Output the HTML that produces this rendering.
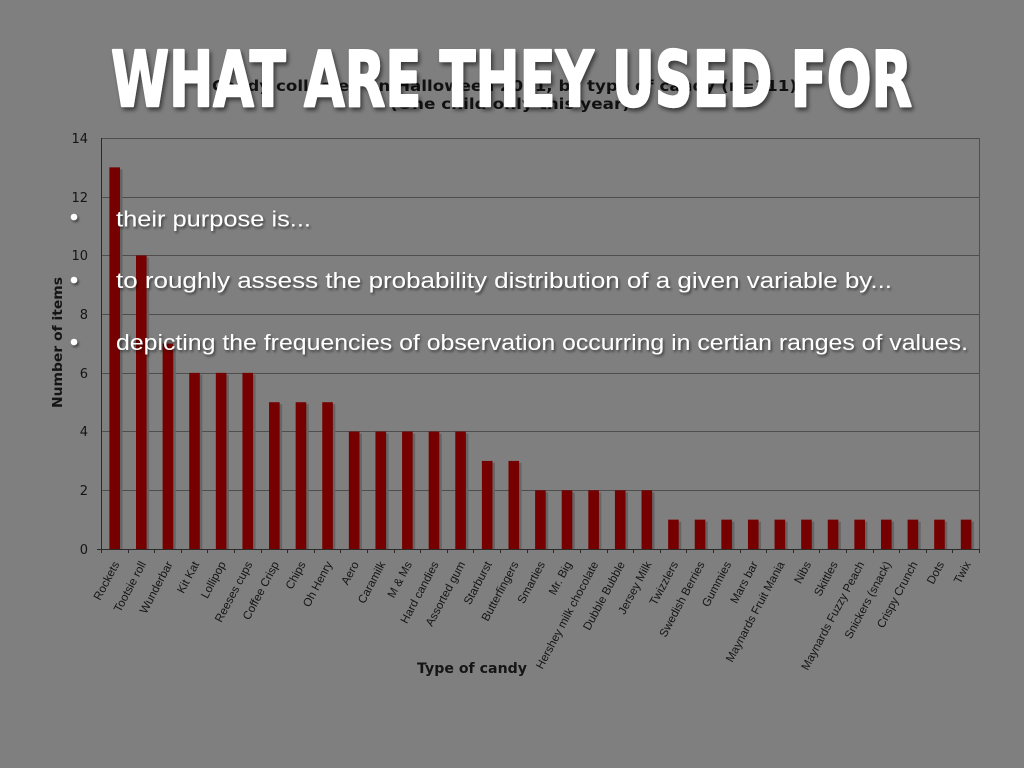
<!DOCTYPE html>
<html><head><meta charset="utf-8"><style>
html,body{margin:0;padding:0;background:#7f7f7f;}
svg{display:block;}
</style></head><body>
<svg width="1024" height="768" viewBox="0 0 1024 768" xmlns="http://www.w3.org/2000/svg">
<defs>
<filter id="sh" x="-5%" y="-20%" width="110%" height="150%">
<feDropShadow dx="2" dy="3" stdDeviation="2" flood-color="#000" flood-opacity="0.55"/>
</filter>
<filter id="sh2" x="-5%" y="-30%" width="110%" height="160%">
<feDropShadow dx="1.5" dy="2" stdDeviation="1.2" flood-color="#000" flood-opacity="0.5"/>
</filter>
</defs>
<rect width="1024" height="768" fill="#7f7f7f"/>

<!-- chart title -->
<g font-family="'DejaVu Sans', 'Liberation Sans', sans-serif" font-weight="bold" fill="#111" font-size="15">
<text x="212" y="91" textLength="585" lengthAdjust="spacingAndGlyphs">Candy collected on Halloween 2011, by type of candy (n=111)</text>
<text x="390" y="109" textLength="240" lengthAdjust="spacingAndGlyphs">(One child only this year)</text>
</g>

<!-- gridlines -->
<g stroke="#4e4e4e" stroke-width="1">
<line x1="101" y1="138.5" x2="979" y2="138.5"/>
<line x1="101" y1="197.5" x2="979" y2="197.5"/>
<line x1="101" y1="255.5" x2="979" y2="255.5"/>
<line x1="101" y1="314.5" x2="979" y2="314.5"/>
<line x1="101" y1="373.5" x2="979" y2="373.5"/>
<line x1="101" y1="431.5" x2="979" y2="431.5"/>
<line x1="101" y1="490.5" x2="979" y2="490.5"/>
<line x1="979.5" y1="138" x2="979.5" y2="549"/>
</g>

<!-- bars -->
<g id="bars"></g>

<!-- axes -->
<g stroke="#2a2a2a" stroke-width="1">
<line x1="101.5" y1="138" x2="101.5" y2="549"/>
<line x1="97" y1="549.5" x2="980" y2="549.5"/>
</g>
<g id="ticks" stroke="#2a2a2a" stroke-width="1"></g>

<!-- y tick labels -->
<g font-family="'DejaVu Sans', 'Liberation Sans', sans-serif" font-size="13" fill="#151515" text-anchor="end">
<text x="88" y="143">14</text>
<text x="88" y="202">12</text>
<text x="88" y="260">10</text>
<text x="88" y="319">8</text>
<text x="88" y="378">6</text>
<text x="88" y="436">4</text>
<text x="88" y="495">2</text>
<text x="88" y="554">0</text>
</g>

<!-- y axis label -->
<text transform="translate(62,342.5) rotate(-90)" text-anchor="middle" font-family="'DejaVu Sans', 'Liberation Sans', sans-serif" font-weight="bold" font-size="13" fill="#151515" textLength="131" lengthAdjust="spacingAndGlyphs">Number of items</text>

<!-- x category labels -->
<g id="xl" font-family="'Liberation Sans', Arial, sans-serif" font-size="11.6" fill="#151515" text-anchor="end"></g>

<!-- x axis label -->
<text x="417" y="673" font-family="'DejaVu Sans', 'Liberation Sans', sans-serif" font-weight="bold" font-size="14" fill="#151515" textLength="110" lengthAdjust="spacingAndGlyphs">Type of candy</text>

<!-- big title -->
<text x="111" y="106" font-family="'DejaVu Sans', 'Liberation Sans', sans-serif" font-weight="bold" font-size="77" fill="#ffffff" stroke="#ffffff" stroke-width="2.2" stroke-linejoin="round" filter="url(#sh)" textLength="801" lengthAdjust="spacingAndGlyphs">WHAT ARE THEY USED FOR</text>

<!-- bullets -->
<g fill="#ffffff" filter="url(#sh2)">
<circle cx="74" cy="217" r="3.3"/>
<circle cx="74" cy="280" r="3.3"/>
<circle cx="74" cy="342" r="3.3"/>
<g font-family="'Liberation Sans', 'DejaVu Sans', sans-serif" font-size="22.5">
<text x="116" y="226.5" textLength="195" lengthAdjust="spacingAndGlyphs">their purpose is...</text>
<text x="116" y="288" textLength="776" lengthAdjust="spacingAndGlyphs">to roughly assess the probability distribution of a given variable by...</text>
<text x="116" y="350" textLength="852" lengthAdjust="spacingAndGlyphs">depicting  the frequencies of observation occurring in certian ranges of values.</text>
</g>
</g>

<script>
(function(){
var ns="http://www.w3.org/2000/svg";
var names=["Rockets","Tootsie roll","Wunderbar","Kit Kat","Lollipop","Reeses cups","Coffee Crisp","Chips","Oh Henry","Aero","Caramilk","M & Ms","Hard candies","Assorted gum","Starburst","Butterfingers","Smarties","Mr. Big","Hershey milk chocolate","Dubble Bubble","Jersey Milk","Twizzlers","Swedish Berries","Gummies","Mars bar","Maynards Fruit Mania","Nibs","Skittles","Maynards Fuzzy Peach","Snickers (snack)","Crispy Crunch","Dots","Twix"];
var vals=[13,10,7,6,6,6,5,5,5,4,4,4,4,4,3,3,2,2,2,2,2,1,1,1,1,1,1,1,1,1,1,1,1];
var x0=101,w=878/33,y0=549,s=411/14,bw=10.6;
var bars=document.getElementById("bars"),ticks=document.getElementById("ticks"),xl=document.getElementById("xl");
for(var i=0;i<33;i++){
 var cx=x0+(i+0.5)*w+0.4;
 var h=vals[i]*s;
 var sh=document.createElementNS(ns,"rect");
 sh.setAttribute("x",cx-bw/2+2.5);sh.setAttribute("y",y0-h+2);sh.setAttribute("width",bw);sh.setAttribute("height",h-2);sh.setAttribute("fill","#656565");
 bars.appendChild(sh);
 var r=document.createElementNS(ns,"rect");
 r.setAttribute("x",cx-bw/2);r.setAttribute("y",y0-h);r.setAttribute("width",bw);r.setAttribute("height",h);r.setAttribute("fill","#760000");
 bars.appendChild(r);
 var t=document.createElementNS(ns,"text");
 t.setAttribute("transform","translate("+(cx+5)+",564) rotate(-62)");
 t.textContent=names[i];
 xl.appendChild(t);
}
for(var j=0;j<=33;j++){
 var tx=Math.round(x0+j*w)+0.5;
 var l=document.createElementNS(ns,"line");
 l.setAttribute("x1",tx);l.setAttribute("x2",tx);l.setAttribute("y1",549);l.setAttribute("y2",553);
 ticks.appendChild(l);
}
})();
</script>
</svg>
</body></html>
